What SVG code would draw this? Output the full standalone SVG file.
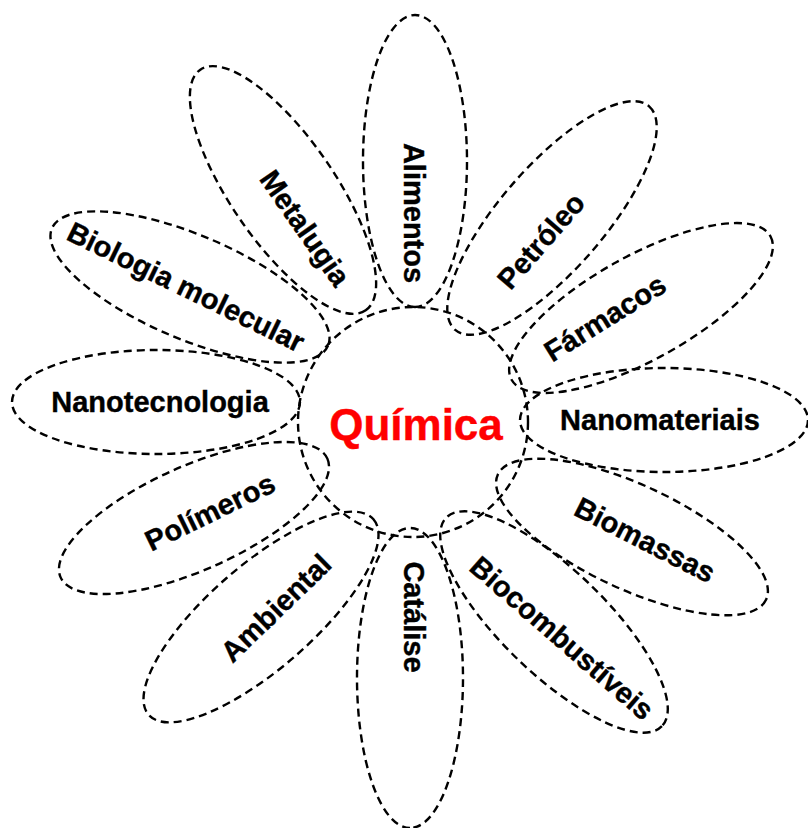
<svg xmlns="http://www.w3.org/2000/svg" width="808" height="828" viewBox="0 0 808 828">
<style>
.p{fill:none;stroke:#000;stroke-width:2.4;stroke-dasharray:8 5}
.t{font-family:"Liberation Sans",Arial,sans-serif;font-weight:bold;font-size:29px;fill:#000;stroke:#000;stroke-width:0.4;text-anchor:middle}
.c{font-family:"Liberation Sans",Arial,sans-serif;font-weight:bold;font-size:44px;fill:#ff0000;stroke:#ff0000;stroke-width:0.4;text-anchor:middle}
</style>
<rect width="808" height="828" fill="#fff"/>
<g id="petal-alimentos"><ellipse class="p" rx="146" ry="52" transform="translate(415,161) rotate(90)"/><text class="t" dy="10" transform="translate(414,213) rotate(90)">Alimentos</text></g>
<g id="petal-petroleo"><ellipse class="p" rx="148" ry="52" transform="translate(552,218) rotate(-49)"/><text class="t" dy="10" transform="translate(541,241) rotate(-49)">Petróleo</text></g>
<g id="petal-farmacos"><ellipse class="p" rx="148" ry="52" transform="translate(641,308) rotate(-29)"/><text class="t" dy="10" transform="translate(605,318) rotate(-32)">Fármacos</text></g>
<g id="petal-nanomateriais"><ellipse class="p" rx="144" ry="52" transform="translate(664,420)"/><text class="t" dy="10" transform="translate(660,420)">Nanomateriais</text></g>
<g id="petal-biomassas"><ellipse class="p" rx="148" ry="52" transform="translate(632,537) rotate(25)"/><text class="t" dy="10" transform="translate(645,540) rotate(27)">Biomassas</text></g>
<g id="petal-biocombustiveis"><ellipse class="p" rx="150" ry="52" transform="translate(554,622) rotate(44)"/><text class="t" dy="10" transform="translate(562,638) rotate(41)">Biocombustíveis</text></g>
<g id="petal-catalise"><ellipse class="p" rx="150" ry="53" transform="translate(410,678) rotate(90)"/><text class="t" dy="10" transform="translate(414,617) rotate(90)">Catálise</text></g>
<g id="petal-ambiental"><ellipse class="p" rx="149" ry="52" transform="translate(261,617) rotate(-41)"/><text class="t" dy="10" transform="translate(276,608) rotate(-44)">Ambiental</text></g>
<g id="petal-polimeros"><ellipse class="p" rx="146" ry="52" transform="translate(194,518) rotate(-24)"/><text class="t" dy="10" transform="translate(210,512) rotate(-26)">Polímeros</text></g>
<g id="petal-nanotecnologia"><ellipse class="p" rx="144" ry="52" transform="translate(156,402)"/><text class="t" dy="10" transform="translate(160,402)">Nanotecnologia</text></g>
<g id="petal-biologia"><ellipse class="p" rx="150" ry="52" transform="translate(190,287) rotate(23)"/><text class="t" dy="10" transform="translate(186,287) rotate(26)">Biologia molecular</text></g>
<g id="petal-metalugia"><ellipse class="p" rx="146" ry="52" transform="translate(283,190) rotate(55.5)"/><text class="t" dy="10" transform="translate(305,228) rotate(55)">Metalugia</text></g>
<g id="center-quimica"><circle class="p" cx="413" cy="422" r="115"/><text class="c" x="416" y="440">Química</text></g>
<g id="connectors"/>
</svg>
